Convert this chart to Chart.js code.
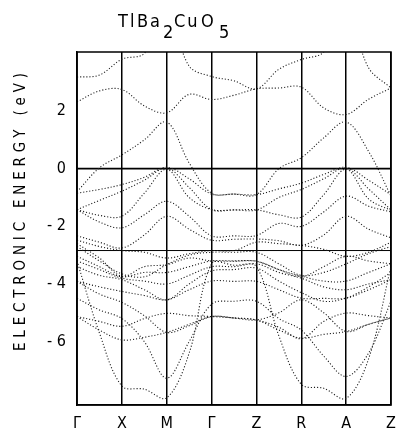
<!DOCTYPE html>
<html>
<head>
<meta charset="utf-8">
<style>
  html, body { margin: 0; padding: 0; background: #fff; }
</style>
</head>
<body>
<canvas id="bands" width="398" height="433"></canvas>
<script src="https://cdn.jsdelivr.net/npm/chart.js@4.4.0/dist/chart.umd.min.js"></script>
<script>
// k-path positions (0 = Γ, 1 = X, 2 = M, 3 = Γ, 4 = Z, 5 = R, 6 = A, 7 = Z), sampled every half segment
var kpoints = [0, 0.5, 1, 1.5, 2, 2.5, 3, 3.5, 4, 4.5, 5, 5.5, 6, 6.5, 7];
var symLabels = ["Γ", "X", "M", "Γ", "Z", "R", "A", "Z"];
var yTicks = [-6, -4, -2, 0, 2];
var fermiLevel = 0;
var refLevel = -2.84;

// band energies (eV) at each kpoint
var band_u1 = [3.18, 3.25, 3.8, 4.0, 5.5, 3.56, 3.2, 3.05, 2.77, 3.45, 3.79, 4.05, 5.5, 3.5, 2.8];
var band_u2 = [2.32, 2.7, 2.75, 2.18, 1.94, 2.58, 2.4, 2.55, 2.77, 2.8, 2.83, 2.11, 1.88, 2.41, 2.8];
var band_u3 = [-0.8, 0.03, 0.48, 1.0, 1.62, 0.2, -0.85, -0.88, -0.9, 0.0, 0.38, 1.07, 1.62, 0.6, -0.95];
var band_v1 = [-0.85, -0.72, -0.55, -0.3, 0.05, -0.35, -0.88, -0.88, -0.9, -0.7, -0.5, -0.2, 0.05, -0.4, -0.9];
var band_v2 = [-1.42, -1.1, -0.78, -0.4, 0.02, -0.65, -1.42, -1.43, -1.43, -1.0, -0.72, -0.35, 0.02, -0.7, -1.43];
var band_v3 = [-1.42, -1.62, -1.65, -0.85, -0.02, -1.0, -1.42, -1.43, -1.43, -1.6, -1.68, -0.9, -0.02, -1.05, -1.45];
var band_v4 = [-1.42, -1.85, -2.05, -1.6, -1.13, -1.65, -2.33, -2.33, -2.32, -1.9, -2.0, -1.5, -0.95, -1.3, -1.5];
var band_v5 = [-2.33, -2.55, -2.75, -2.3, -1.65, -2.1, -2.48, -2.45, -2.44, -2.5, -2.66, -2.3, -1.65, -2.1, -2.4];
var band_v6 = [-2.48, -2.7, -2.84, -2.9, -3.1, -2.95, -2.84, -2.84, -2.55, -2.6, -2.66, -2.8, -3.04, -2.9, -2.55];
var band_v7 = [-2.6, -3.1, -3.73, -3.4, -3.33, -3.1, -3.2, -3.21, -3.21, -3.5, -3.74, -3.4, -3.04, -3.2, -3.3];
var band_v8 = [-3.04, -3.4, -3.75, -3.6, -3.6, -3.4, -3.2, -3.2, -3.21, -3.5, -3.73, -3.9, -3.9, -3.6, -3.3];
var band_v9 = [-3.2, -3.5, -3.8, -3.9, -4.0, -3.7, -3.4, -3.4, -3.3, -3.6, -3.8, -4.1, -4.2, -4.0, -3.85];
var band_v10 = [-3.91, -4.1, -4.26, -4.4, -4.55, -4.2, -3.9, -3.91, -3.91, -4.2, -4.49, -4.5, -4.49, -4.2, -3.85];
var band_v11 = [-3.91, -4.35, -4.64, -5.1, -5.68, -5.45, -5.13, -5.18, -5.25, -5.0, -4.55, -5.0, -5.65, -5.4, -5.18];
var band_v12 = [-5.13, -5.3, -5.47, -5.2, -5.02, -5.1, -5.13, -5.18, -5.25, -5.5, -5.9, -5.3, -5.01, -5.1, -5.18];
var band_v13 = [-5.13, -5.6, -5.94, -5.85, -5.68, -5.4, -5.13, -5.18, -5.25, -5.6, -5.88, -5.75, -5.65, -5.4, -5.18];
var band_v14 = [-2.7, -3.2, -3.65, -3.75, -3.33, -3.0, -2.9, -2.9, -2.9, -3.3, -3.7, -3.6, -3.3, -2.95, -2.7];
var band_v15 = [-3.4, -3.7, -3.85, -4.2, -4.55, -4.0, -3.55, -3.5, -3.45, -3.9, -4.3, -4.6, -4.49, -4.1, -3.6];
var band_d1 = [-3.2, -5.7, -7.54, -7.65, -7.95, -6.4, -3.3, -3.35, -3.4, -5.8, -7.48, -7.62, -7.97, -6.6, -3.4];
var band_d2 = [-4.5, -4.9, -5.2, -6.0, -7.27, -6.0, -4.7, -4.6, -4.6, -5.2, -5.6, -6.5, -7.21, -6.4, -4.6];

var bands = [band_u1, band_u2, band_u3, band_v1, band_v2, band_v3, band_v4, band_v5, band_v6,
             band_v7, band_v8, band_v9, band_v10, band_v11, band_v12, band_v13, band_v14, band_v15,
             band_d1, band_d2];

var titleParts = [
  { t: "Tl", sub: false }, { t: "Ba", sub: false }, { t: "2", sub: true },
  { t: "Cu", sub: false }, { t: "O", sub: false }, { t: "5", sub: true }
];
var yTitle = "ELECTRONIC ENERGY (eV)";
var labelFont = '"DejaVu Sans Condensed", "DejaVu Sans", sans-serif';

var datasets = bands.map(function (b) {
  return {
    data: kpoints.map(function (k, i) { return { x: k, y: b[i] }; }),
    borderColor: "#1a1a1a",
    borderWidth: 1.1,
    borderDash: [1.1, 2],
    pointRadius: 0,
    tension: 0.35,
    fill: false
  };
});
// Fermi level and the reference level, solid across the whole path
datasets.push({
  data: [{ x: 0, y: fermiLevel }, { x: 7, y: fermiLevel }],
  borderColor: "#000", borderWidth: 1.8, pointRadius: 0, fill: false
});
datasets.push({
  data: [{ x: 0, y: refLevel }, { x: 7, y: refLevel }],
  borderColor: "#000", borderWidth: 1, pointRadius: 0, fill: false
});

var decor = {
  id: "decor",
  afterDraw: function (chart) {
    var ctx = chart.ctx, a = chart.chartArea;
    ctx.save();
    ctx.strokeStyle = "#000";
    ctx.lineWidth = 1.5;
    ctx.strokeRect(a.left, a.top, a.right - a.left, a.bottom - a.top);

    // title with subscripts; offsets of each piece from the first letter
    var offs = [0, 19, 45, 56, 83, 101];
    ctx.fillStyle = "#000";
    ctx.font = "18px " + labelFont;
    ctx.letterSpacing = "2px";
    ctx.textBaseline = "alphabetic";
    var x0 = a.left + 41;
    titleParts.forEach(function (p, i) {
      ctx.fillText(p.t, x0 + offs[i], p.sub ? 38 : 27);
    });

    // rotated axis title, spread out
    ctx.font = "15px " + labelFont;
    ctx.letterSpacing = "0px";
    var w = ctx.measureText(yTitle).width;
    var sp = (278 - w) / (yTitle.length - 1);
    ctx.letterSpacing = sp + "px";
    ctx.translate(25, 212);
    ctx.rotate(-Math.PI / 2);
    ctx.textAlign = "center";
    ctx.fillText(yTitle, sp / 2, 0);
    ctx.restore();
  }
};

new Chart(document.getElementById("bands"), {
  type: "line",
  data: { datasets: datasets },
  plugins: [decor],
  options: {
    responsive: false,
    animation: false,
    layout: { padding: { top: 52, right: 7, left: 0, bottom: 0 } },
    plugins: { legend: { display: false }, tooltip: { enabled: false }, title: { display: false } },
    scales: {
      x: {
        type: "linear",
        min: 0, max: 7,
        afterBuildTicks: function (s) { s.ticks = symLabels.map(function (l, i) { return { value: i }; }); },
        afterFit: function (s) { s.height = 28; s.paddingLeft = 0; s.paddingRight = 0; },
        ticks: {
          callback: function (v) { return symLabels[v]; },
          font: { family: labelFont, size: 16 },
          color: "#000",
          padding: 9,
          autoSkip: false,
          maxRotation: 0
        },
        grid: { color: "#000", lineWidth: 1.5, drawTicks: false },
        border: { color: "#000", width: 1.5 }
      },
      y: {
        min: -8.2, max: 4.05,
        afterBuildTicks: function (s) { s.ticks = yTicks.map(function (v) { return { value: v }; }); },
        afterFit: function (s) { s.width = 77; },
        ticks: {
          callback: function (v) { return v < 0 ? "- " + (-v) : "" + v; },
          font: { family: labelFont, size: 16 },
          color: "#000",
          padding: 11
        },
        grid: { display: false, drawTicks: false },
        border: { color: "#000", width: 1.5 }
      }
    }
  }
});
</script>
</body>
</html>
